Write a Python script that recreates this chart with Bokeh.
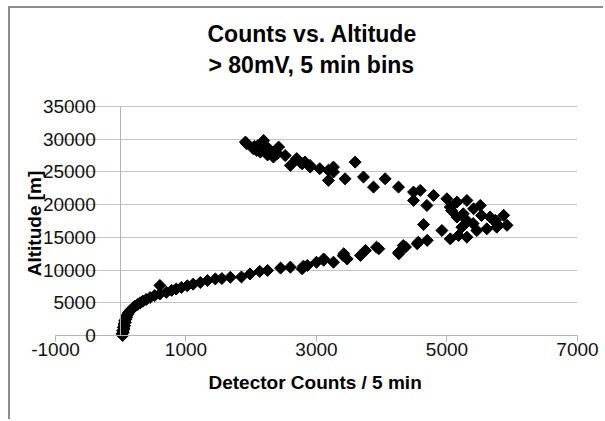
import numpy as np
from bokeh.plotting import figure
from bokeh.models import (LinearAxis, FixedTicker, Title, Range1d,
                          ColumnDataSource, BoxAnnotation, PrintfTickFormatter)
from bokeh.embed import file_html
from bokeh.resources import INLINE

# ---- data ----
altitude_m = [
    0, 250, 500, 750, 1000, 1250, 1500, 1750, 2000, 2250, 2500, 2750, 3000,
    3250, 3500, 3750, 4000, 4250, 4500, 4750, 5000, 5250, 5500,
    5800, 6100, 6350, 6600, 7650, 6900, 7100, 7350, 7600, 7850, 8100, 8400,
    8650, 8700, 8900, 8950, 9400, 9800, 9950, 10300, 10450, 10600, 10200,
    10700, 11200, 11500, 11700, 11200, 12200, 11700, 12500, 12240, 13000,
    13260, 13500, 12500, 12700, 13520, 13750, 14030, 14250, 14540,
    16960, 16050, 14770, 15290, 15030, 16560, 16050, 16300, 16560,
    18100, 17330, 17600, 17100, 19100, 18600, 18350, 18100, 17100, 18360,
    16840, 17600, 19370, 19880, 20640, 20390, 19630, 20900, 21410, 19880,
    22170, 20640, 21920, 22680, 23950, 22680, 24220, 23950, 25740, 26500,
    24985, 25500, 25250, 26000, 26250, 26500, 25750, 27000, 26000, 27500,
    28800, 27270, 28300, 28030, 29800, 28540, 29560, 29300, 28290, 29000,
    28700, 27800, 27600, 28900, 26510, 27020, 23710,
]
counts_per_5min = [
    30, 20, 40, 30, 50, 40, 60, 50, 70, 60, 80, 90, 90,
    110, 120, 140, 170, 190, 220, 260, 300, 340, 390,
    450, 520, 600, 700, 600, 780, 850, 930, 1020, 1110, 1220, 1330,
    1450, 1550, 1680, 1850, 1980, 2130, 2250, 2450, 2600, 2800, 2780,
    2860, 3000, 3110, 3110, 3260, 3410, 3470, 3419, 3674, 3750,
    3955, 3920, 4262, 4260, 4364, 4330, 4543, 4560, 4697,
    4641, 4922, 5050, 5177, 5305, 5228, 5457, 5610, 5763,
    5152, 5305, 5300, 5400, 5070, 5250, 5530, 5660, 5760, 5868,
    5919, 5740, 5408, 5510, 5305, 5152, 5050, 4998, 4794, 4692,
    4590, 4487, 4487, 4257, 4052, 3874, 3720, 3438, 3260, 3592,
    3260, 3050, 3183, 2900, 2780, 2750, 2903, 2700, 2600, 2520,
    2420, 2340, 2290, 2140, 2190, 2033, 1911, 1930, 2084, 2100,
    2250, 2400, 2250, 2050, 2825, 2697, 3183,
]

x_tick_values = [-1000, 1000, 3000, 5000, 7000]
y_tick_values = [0, 5000, 10000, 15000, 20000, 25000, 30000, 35000]

title_main = "Counts vs. Altitude"
title_sub = "> 80mV, 5 min bins"
x_title = "Detector Counts / 5 min"
y_title = "Altitude [m]"

FONT = "Liberation Sans"
GRID = "#c4c4c4"
AXIS = "#b4b4b4"
EDGE = "#8c8c8c"

src = ColumnDataSource(dict(x=counts_per_5min, y=altitude_m))

# the drawing area is a little larger than the -1000..7000 / 0..35000 plot
# area so that the labels of the crossing axes are not cut off
p = figure(width=595, height=413,
           x_range=Range1d(-1444, 7429), y_range=Range1d(-4891, 39127),
           x_axis_location=None, y_axis_location=None,
           output_backend="svg", toolbar_location=None,
           min_border_left=16, min_border_right=0,
           min_border_top=71, min_border_bottom=54)
p.styles = {"margin-left": "8px", "margin-top": "6px",
            "border-left": f"2px solid {EDGE}",
            "border-top": f"2px solid {EDGE}"}
p.outline_line_color = None
p.background_fill_color = "white"
p.border_fill_color = "white"

# titles: main (outer) and subtitle
p.title.text = title_main
p.title.align = "left"
p.title.offset = 181
p.title.standoff = 2
p.title.text_font = FONT
p.title.text_font_size = "23px"
p.title.text_font_style = "bold"
p.title.text_color = "black"
p.add_layout(Title(text=title_sub, align="left", offset=182, standoff=4,
                   text_font=FONT, text_font_size="23px",
                   text_font_style="bold", text_color="black"), "above")

# x axis title below the plot
p.add_layout(Title(text=x_title, align="left", offset=182, standoff=4,
                   text_font=FONT, text_font_size="19px",
                   text_font_style="bold", text_color="black"), "below")

# grid
p.xgrid.visible = False
p.ygrid.ticker = FixedTicker(ticks=y_tick_values)
p.ygrid.grid_line_color = GRID
p.ygrid.grid_line_width = 1
# blank out the gridlines outside the -1000..7000 plot area
p.add_layout(BoxAnnotation(right=-1000, fill_color="white", fill_alpha=1.0,
                           line_color=None, level="underlay"))
p.add_layout(BoxAnnotation(left=7000, fill_color="white", fill_alpha=1.0,
                           line_color=None, level="underlay"))

# x axis crossing at y = 0
xa = LinearAxis(fixed_location=0, bounds=(-1000, 7000),
                ticker=FixedTicker(ticks=x_tick_values),
                formatter=PrintfTickFormatter(format="%d"))
xa.axis_line_color = AXIS
xa.major_tick_line_color = AXIS
xa.major_tick_out = 6
xa.major_tick_in = 0
xa.minor_tick_line_color = None
xa.major_label_text_font = FONT
xa.major_label_text_font_size = "19px"
xa.major_label_text_color = "#111111"
xa.major_label_standoff = 2
p.add_layout(xa, "below")

# y axis title, anchored at the -1000 edge
ya = LinearAxis(fixed_location=-1000, ticker=FixedTicker(ticks=[]))
ya.axis_line_color = None
ya.major_tick_line_color = None
ya.minor_tick_line_color = None
ya.axis_label = y_title
ya.axis_label_text_font = FONT
ya.axis_label_text_font_size = "19px"
ya.axis_label_text_font_style = "bold"
ya.axis_label_text_color = "black"
ya.axis_label_standoff = 11
p.add_layout(ya, "left")

# y axis crossing at x = 0
yb = LinearAxis(fixed_location=0, bounds=(0, 35000),
                ticker=FixedTicker(ticks=y_tick_values),
                formatter=PrintfTickFormatter(format="%d"))
yb.axis_line_color = AXIS
yb.major_tick_line_color = AXIS
yb.major_tick_out = 0
yb.major_tick_in = 0
yb.minor_tick_line_color = None
yb.major_label_text_font = FONT
yb.major_label_text_font_size = "19px"
yb.major_label_text_color = "#111111"
yb.major_label_standoff = 25
p.add_layout(yb, "left")

p.scatter(x="x", y="y", source=src, marker="square", size=8.5,
          angle=np.pi / 4, fill_color="black", line_color="black")

open("out.html", "w").write(file_html(p, INLINE))
